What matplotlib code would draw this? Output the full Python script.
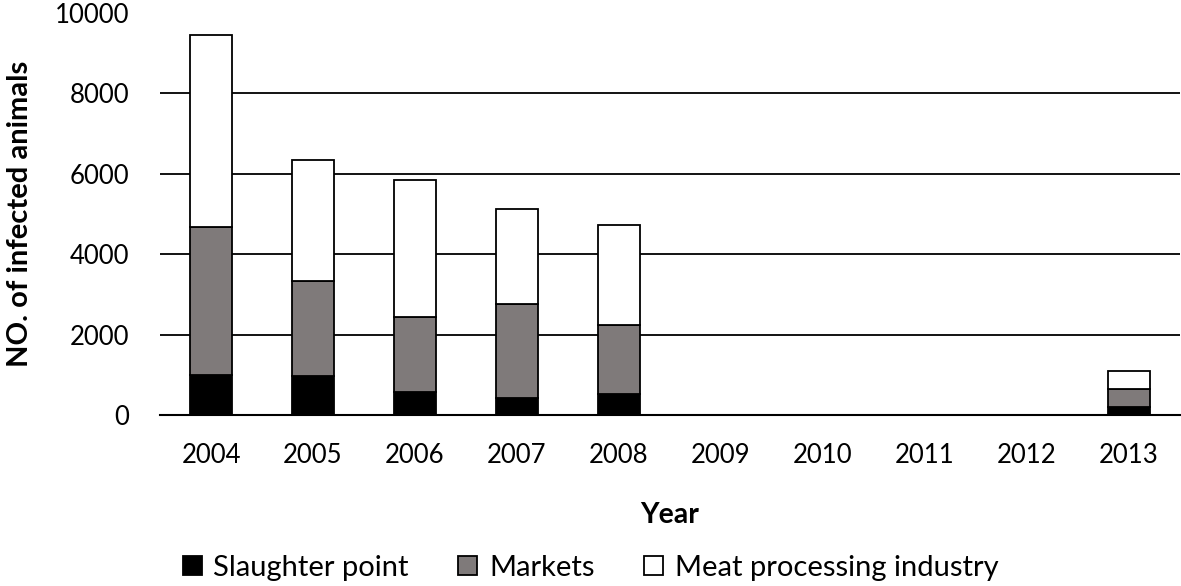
import matplotlib.pyplot as plt
import numpy as np

plt.rcParams['font.family'] = ['Lato', 'DejaVu Sans']

# data
years = ['2004', '2005', '2006', '2007', '2008', '2009', '2010', '2011', '2012', '2013']
slaughter = [1000, 985, 575, 430, 530, 0, 0, 0, 0, 200]
markets = [3680, 2355, 1865, 2330, 1710, 0, 0, 0, 0, 455]
meat_industry = [4770, 3015, 3420, 2360, 2490, 0, 0, 0, 0, 445]

x = np.arange(len(years))
w = 0.41

fig = plt.figure(figsize=(11.81, 5.86), dpi=100)
ax = fig.add_axes([0.1355, 0.291, 0.8635, 0.687])

bot2 = np.array(slaughter)
bot3 = bot2 + np.array(markets)
ax.bar(x, slaughter, w, color='black', edgecolor='black', lw=1.3, label='Slaughter point', zorder=3)
ax.bar(x, markets, w, bottom=bot2, color='#7f7a7a', edgecolor='black', lw=1.3, label='Markets', zorder=3)
ax.bar(x, meat_industry, w, bottom=bot3, color='white', edgecolor='black', lw=1.3,
       label='Meat processing industry', zorder=3)

ax.set_xlim(-0.5, len(years) - 0.5)
ax.set_ylim(0, 10000)
ax.set_yticks([0, 2000, 4000, 6000, 8000, 10000])
ax.set_xticks(x)
ax.set_xticklabels(years)
ax.yaxis.grid(True, color='black', lw=1.3, zorder=0)
ax.yaxis.get_gridlines()[-1].set_visible(False)

for s in ['top', 'right', 'left']:
    ax.spines[s].set_visible(False)
ax.spines['bottom'].set_color('black')
ax.spines['bottom'].set_linewidth(1.5)
ax.spines['bottom'].set_zorder(4)
ax.tick_params(axis='both', length=0, labelsize=18.5, colors='black')
ax.tick_params(axis='y', pad=22)
ax.tick_params(axis='x', pad=20)

ax.set_xlabel('Year', fontsize=20.5, fontweight='bold', labelpad=24)
ax.set_ylabel('NO. of infected animals', fontsize=21, fontweight='bold', labelpad=16)

fig.legend(loc='center', bbox_to_anchor=(0.5, 0.031), ncol=3, frameon=False,
           fontsize=21, handlelength=0.65, handleheight=0.65, handletextpad=0.4,
           columnspacing=1.7, borderaxespad=0)

plt.savefig('out.png', dpi=100)
